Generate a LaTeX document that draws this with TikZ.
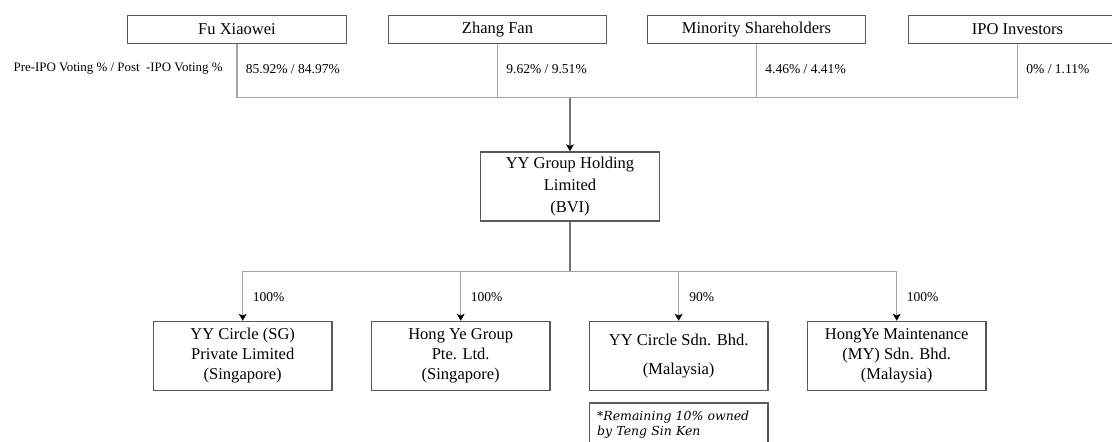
\documentclass[tikz,border=0pt]{standalone}
\usepackage{fontspec}
\setmainfont{Liberation Serif}
\newfontfamily\notefont{DejaVu Serif}
\usepackage{xcolor}
\usetikzlibrary{arrows.meta}
\definecolor{C0}{RGB}{90,90,90}
\definecolor{C1}{RGB}{165,165,165}
\definecolor{C2}{RGB}{115,115,115}
\tikzset{
  holder/.style={draw=C0, line width=0.8pt, minimum width=4.37cm, minimum height=0.56cm,
    inner sep=0pt, font=\fontsize{9.4}{11}\selectfont},
  entity/.style={draw=C0, line width=0.8pt, minimum width=3.57cm, minimum height=1.38cm,
    inner sep=0pt, align=center, font=\fontsize{9.4}{11.4}\selectfont},
  pct/.style={anchor=west, inner sep=0pt, font=\fontsize{7.7}{9}\selectfont},
  link/.style={draw=C1, line width=0.6pt},
  owns/.style={link, -{Stealth[length=4pt, width=4.5pt, inset=1pt, color=black]}},
}

\begin{document}
\begin{tikzpicture}
  \useasboundingbox (0,0) rectangle (22.24,8.82);
  \clip (0,0) rectangle (22.24,8.82);

  % Shareholders.
  \node[holder] (fu) at (4.74,8.23) {Fu Xiaowei};
  \node[holder] (zhang) at (9.95,8.23) {Zhang Fan};
  \node[holder] (minority) at (15.13,8.23) {Minority Shareholders};
  \node[holder] (ipo) at (20.35,8.23) {IPO Investors};

  % Voting percentages.
  \node[pct, anchor=east, font=\fontsize{7.35}{9}\selectfont] (votehead) at (4.46,7.44)
    {Pre-IPO Voting \% / Post~ -IPO Voting \%};
  \node[pct] (fupct) at (4.91,7.44) {85.92\% / 84.97\%};
  \node[pct] (zhangpct) at (10.12,7.44) {9.62\% / 9.51\%};
  \node[pct] (minoritypct) at (15.30,7.44) {4.46\% / 4.41\%};
  \node[pct] (ipopct) at (20.52,7.44) {0\% / 1.11\%};

  % Holding company.
  \node[entity, font=\fontsize{9.4}{12.3}\selectfont] (holding) at (11.40,5.09)
    {YY Group Holding\\Limited\\(BVI)};

  % Shareholder lines.
  \coordinate (topbus) at (11.40,6.87);
  \draw[link] (fu.south) |- (topbus) -| (ipo.south);
  \draw[link] (zhang.south) -- (zhang.south |- topbus);
  \draw[link] (minority.south) -- (minority.south |- topbus);
  \draw[owns, draw=C2] (topbus) -- (holding.north);

  % Subsidiaries.
  \node[entity] (sg) at (4.854,1.70) {YY Circle (SG)\\Private Limited\\(Singapore)};
  \node[entity] (hongye) at (9.214,1.70) {Hong Ye Group\\Pte. Ltd.\\(Singapore)};
  \node[entity] (yymy) at (13.574,1.70) {YY Circle Sdn. Bhd.\\[5pt](Malaysia)};
  \node[entity] (maint) at (17.934,1.70) {HongYe Maintenance\\(MY) Sdn. Bhd.\\(Malaysia)};

  \coordinate (botbus) at (11.40,3.39);
  \draw[link, draw=C2] (holding.south) -- (botbus);
  \foreach \co in {sg,hongye,yymy,maint}
    \draw[owns] (botbus) -| (\co.north);

  \node[pct] (sgpct) at (5.05,2.87) {100\%};
  \node[pct] (hongyepct) at (9.41,2.87) {100\%};
  \node[pct] (yymypct) at (13.78,2.87) {90\%};
  \node[pct] (maintpct) at (18.13,2.87) {100\%};

  % Note on the remaining stake.
  \node[draw=C0, line width=0.8pt, anchor=north, text width=3.26cm, inner xsep=0.155cm,
    inner ysep=0.17cm, align=left, text depth=0.5cm,
    font=\notefont\itshape\fontsize{7.1}{8.5}\selectfont] (note) at (13.574,0.774)
    {*Remaining 10\% owned\\by Teng Sin Ken};

\end{tikzpicture}
\end{document}
